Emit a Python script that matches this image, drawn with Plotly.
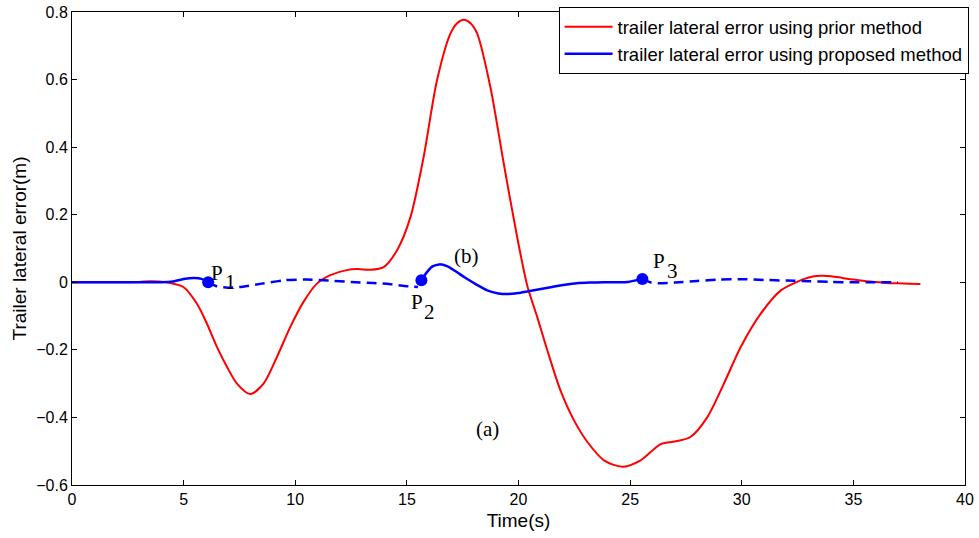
import plotly.graph_objects as go

# ---- data ----
red_x = [0, 1, 2, 3, 3.5, 3.9, 4.39, 4.99, 5.59, 6.04, 6.49, 6.94, 7.39, 7.98, 8.58, 9.18, 9.78,
         10.37, 10.97, 11.57, 12.3, 12.8, 13.36, 13.96, 14.56, 15.16, 15.75, 16.35, 16.95, 17.25,
         17.55, 17.85, 18.15, 18.74, 19.34, 19.94, 20.4, 20.84, 21.29, 21.88, 22.48, 23.08, 23.83,
         24.65, 25.47, 26.37, 27.1, 27.7, 28.46, 29.2, 29.96, 30.85, 31.75, 32.5, 33.0, 33.5, 34.0,
         34.5, 35.0, 35.5, 36.0, 36.5, 37.0, 37.5, 38.0]
red_y = [0, 0, 0, 0.001, 0.003, 0.002, -0.002, -0.014, -0.063, -0.122, -0.191, -0.25, -0.30, -0.331,
         -0.30, -0.221, -0.132, -0.058, -0.004, 0.021, 0.036, 0.039, 0.037, 0.045, 0.095, 0.193,
         0.371, 0.598, 0.736, 0.767, 0.777, 0.767, 0.736, 0.578, 0.351, 0.134, -0.012, -0.103,
         -0.201, -0.32, -0.408, -0.472, -0.527, -0.546, -0.527, -0.479, -0.47, -0.458, -0.399,
         -0.30, -0.191, -0.093, -0.024, 0.002, 0.014, 0.019, 0.018, 0.013, 0.008, 0.004, 0.001,
         -0.002, -0.003, -0.004, -0.005]

# proposed method: solid segments (tracking) and dashed segments (between switch points)
blue_solid1_x = [0, 1, 2, 3, 4, 4.5, 5.0, 5.5, 5.8, 6.1]
blue_solid1_y = [0, 0, 0, 0, 0, 0.002, 0.01, 0.013, 0.01, 0.0]
blue_dash1_x = [6.1, 6.5, 7.0, 7.5, 8.5, 9.5, 10.5, 11.5, 12.5, 13.5, 14.2, 14.8, 15.2, 15.5]
blue_dash1_y = [0, -0.012, -0.016, -0.014, -0.004, 0.006, 0.008, 0.005, 0.001, -0.002, -0.005,
                -0.01, -0.013, -0.014]
blue_solid2_x = [15.65, 15.9, 16.15, 16.45, 16.8, 17.2, 17.6, 18.1, 18.6, 19.1, 19.5, 20.0, 20.5,
                 21.0, 21.5, 22.0, 22.6, 23.2, 23.8, 24.4, 24.9, 25.2, 25.55]
blue_solid2_y = [0.006, 0.03, 0.047, 0.053, 0.048, 0.032, 0.014, -0.006, -0.024, -0.033, -0.035,
                 -0.032, -0.026, -0.02, -0.014, -0.008, -0.003, -0.001, 0, 0, 0.001, 0.005, 0.01]
blue_dash2_x = [25.55, 25.9, 26.3, 27, 28, 29, 30, 31, 32, 33, 34, 35, 36, 37]
blue_dash2_y = [0.01, 0.0, -0.003, -0.001, 0.004, 0.008, 0.009, 0.007, 0.005, 0.003, 0.001, 0.0,
                0.0, 0.0]

point_x = [6.1, 15.65, 25.55]
point_y = [0.0, 0.006, 0.01]

x_ticks = [0, 5, 10, 15, 20, 25, 30, 35, 40]
y_ticks = [-0.6, -0.4, -0.2, 0, 0.2, 0.4, 0.6, 0.8]

RED = "#ff0000"
BLUE = "#0000ff"
SANS = "Liberation Sans, Arial, Helvetica"
SERIF = "Liberation Serif, Times New Roman, serif"

fig = go.Figure()
fig.add_trace(go.Scatter(x=red_x, y=red_y, mode="lines",
                         line=dict(color=RED, width=2, shape="spline", smoothing=0.8),
                         name="trailer lateral error using prior method"))
fig.add_trace(go.Scatter(x=blue_solid1_x, y=blue_solid1_y, mode="lines",
                         line=dict(color=BLUE, width=2.5, shape="spline", smoothing=0.6),
                         name="trailer lateral error using proposed method",
                         legendgroup="b", showlegend=True))
fig.add_trace(go.Scatter(x=blue_dash1_x, y=blue_dash1_y, mode="lines",
                         line=dict(color=BLUE, width=2.5, dash="10px,6px", shape="spline", smoothing=0.6),
                         legendgroup="b", showlegend=False))
fig.add_trace(go.Scatter(x=blue_solid2_x, y=blue_solid2_y, mode="lines",
                         line=dict(color=BLUE, width=2.5, shape="spline", smoothing=0.6),
                         legendgroup="b", showlegend=False))
fig.add_trace(go.Scatter(x=blue_dash2_x, y=blue_dash2_y, mode="lines",
                         line=dict(color=BLUE, width=2.5, dash="10px,6px", shape="spline", smoothing=0.6),
                         legendgroup="b", showlegend=False))
fig.add_trace(go.Scatter(x=point_x, y=point_y, mode="markers",
                         marker=dict(color=BLUE, size=12), showlegend=False))

ann = [
    ("P", 6.50, 0.034), ("1", 7.12, 0.007),
    ("P", 15.45, -0.052), ("2", 16.03, -0.083),
    ("P", 26.30, 0.0695), ("3", 26.90, 0.038),
    ("(b)", 17.67, 0.084), ("(a)", 18.61, -0.429),
]
for t, ax, ay in ann:
    fig.add_annotation(x=ax, y=ay, text=t, showarrow=False, xanchor="center", yanchor="middle",
                       yshift=-2, font=dict(family=SERIF, size=21, color="black"))

axis_common = dict(showline=True, linecolor="black", linewidth=1, mirror="ticks",
                   ticks="inside", ticklen=5, tickcolor="black", showgrid=False, zeroline=False,
                   automargin=False,
                   tickfont=dict(family=SANS, size=16, color="black"))

fig.update_xaxes(range=[0, 40], tickvals=x_ticks,
                 title=dict(text="Time(s)", font=dict(family=SANS, size=19, color="black"),
                            standoff=6),
                 **axis_common)
fig.update_yaxes(range=[-0.6, 0.8], tickvals=y_ticks,
                 title=dict(text="Trailer lateral error(m)",
                            font=dict(family=SANS, size=19, color="black"),
                            standoff=4),
                 **axis_common)

fig.update_layout(
    width=979, height=538,
    margin=dict(l=72, r=14, t=12, b=53, autoexpand=False),
    paper_bgcolor="white", plot_bgcolor="white",
    legend=dict(x=1.004, y=1.01, xanchor="right", yanchor="top",
                bgcolor="white", bordercolor="black", borderwidth=1,
                font=dict(family=SANS, size=18.5, color="black"),
                itemwidth=48, tracegroupgap=0),
)

fig.write_html("out.html")
